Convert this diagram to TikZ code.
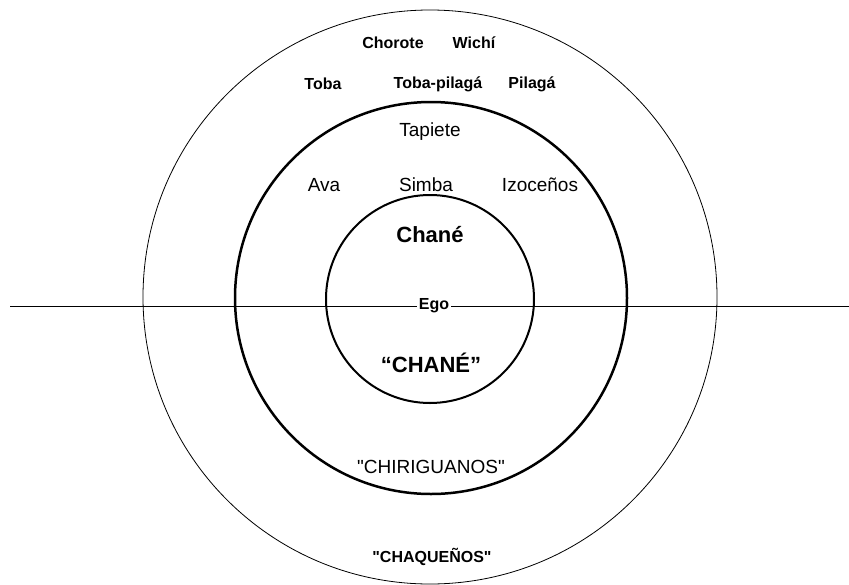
\documentclass[tikz,border=0pt]{standalone}
\usepackage{fontspec}
\setmainfont{Liberation Sans}
\usepackage{tikz}
\usetikzlibrary{positioning}

\begin{document}
\begin{tikzpicture}[
    x=1pt, y=-1pt,
    ring/.style={circle, draw, inner sep=0pt},
    small/.style={font=\fontsize{16}{18}\selectfont\bfseries, inner sep=1pt},
    group/.style={font=\fontsize{19}{22}\selectfont, inner sep=1pt},
    core/.style={font=\fontsize{22}{25}\selectfont\bfseries, inner sep=1pt}
]
\useasboundingbox (0,0) rectangle (849,584);

% Rings
\node[ring, line width=0.8pt, minimum size=574pt] (outer) at (430,297) {};
\node[ring, line width=2.5pt, minimum size=392pt] (middle) at (431,298) {};
\node[ring, line width=2pt, minimum size=208pt] (inner) at (430,299) {};

% Axis
\node[small, fill=white, inner sep=2pt] (ego) at (434,306) {Ego};
\coordinate (axisL) at (10,306);
\coordinate (axisR) at (849,306);
\draw[line width=1pt] (axisL) -- (ego);
\draw[line width=1pt] (ego) -- (axisR);

% Outer ring
\node[small] (chorote) at (393,43) {Chorote};
\node[small] (wichi) at (474,43) {Wichí};
\node[small] (toba) at (323,84) {Toba};
\node[small] (tobapilaga) at (438,84) {Toba-pilagá};
\node[small] (pilaga) at (532,84) {Pilagá};
\node[small] (chaquenos) at (432,557) {\textquotedbl CHAQUEÑOS\textquotedbl};

% Middle ring
\node[group] (tapiete) at (430,132) {Tapiete};
\node[group] (ava) at (324,185) {Ava};
\node[group] (simba) at (426,185) {Simba};
\node[group] (izocenos) at (540,185) {Izoceños};
\node[group] (chiriguanos) at (431,467) {\textquotedbl CHIRIGUANOS\textquotedbl};

% Inner ring
\node[core] (chane) at (430,235) {Chané};
\node[core] (chanequote) at (431,363) {“CHANÉ”};

\end{tikzpicture}
\end{document}
